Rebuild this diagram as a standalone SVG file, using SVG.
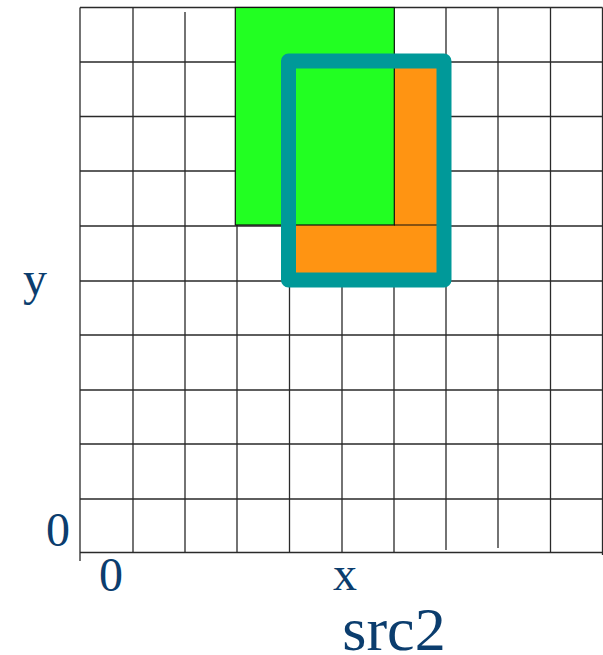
<svg xmlns="http://www.w3.org/2000/svg" width="603" height="655" viewBox="0 0 603 655">
<style>
.g{stroke:#2a2a2a;stroke-width:1.3;fill:none}
.t{font-family:"Liberation Serif","Times New Roman",serif;fill:#0b3d6e;text-anchor:middle}
</style>
<rect width="603" height="655" fill="#fff"/>
<g id="grid">
<path class="g" d="M80,7.5V561M133,7.5V552.5M185,12V552.5M237,7.5V552.5M289.5,7.5V552.5M342,7.5V552.5M394,7.5V552.5M446,7.5V550M498,7.5V548M550.5,7.5V552.5M602.5,7.5V555"/>
<path class="g" d="M80,7.5H602.5M80,62H602.5M80,116.5H602.5M80,171H602.5M80,226H602.5M80,281H602.5M80,335H602.5M80,390H602.5M80,444H602.5M80,499H602.5M80,552.5H602.5"/>
</g>
<g id="orange">
<rect x="289" y="61" width="155" height="219" fill="#ff9412"/>
</g>
<g id="green">
<rect x="235.3" y="7.5" width="159" height="217.5" fill="#22ff22" stroke="#111" stroke-width="1.2"/>
<line x1="394" y1="225" x2="437" y2="225" stroke="#111" stroke-width="1.2"/>
</g>
<g id="window">
<rect x="288.5" y="61" width="155.5" height="219" fill="none" stroke="#009999" stroke-width="15" stroke-linejoin="round"/>
</g>
<g id="labels">
<text class="t" x="35" y="295" font-size="48">y</text>
<text class="t" x="58" y="546" font-size="48">0</text>
<text class="t" x="111" y="591" font-size="48">0</text>
<text class="t" x="345" y="590" font-size="48">x</text>
<text class="t" x="394" y="650" font-size="62">src2</text>
</g>
</svg>
